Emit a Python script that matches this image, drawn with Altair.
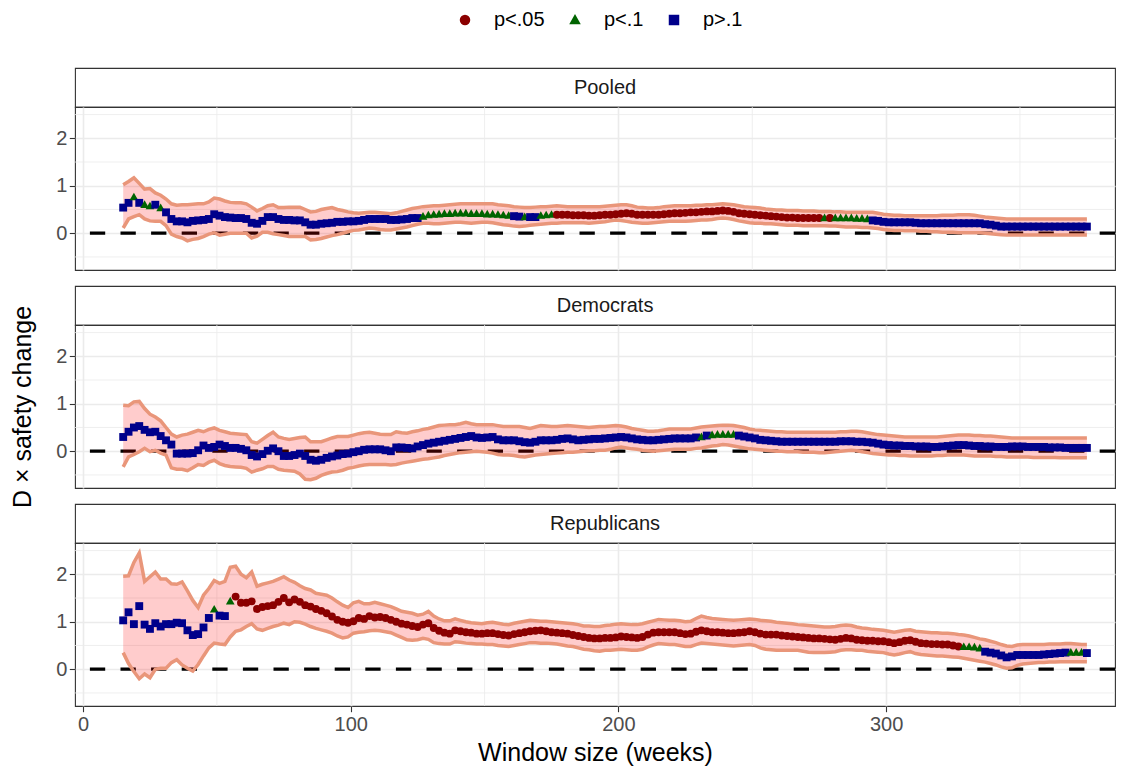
import altair as alt
import pandas as pd

# ---------------- data ----------------
WEEKS = list(range(15, 376, 2))  # window sizes shown (every 2nd week)

SIG_LEVELS = ["p<.05", "p<.1", "p>.1"]
SIG_COLORS = ["#8B0000", "#006400", "#00008B"]
SIG_SHAPES = ["circle", "M0,-1.15L1.1,0.8L-1.1,0.8Z", "square"]

PANELS = ["Pooled", "Democrats", "Republicans"]

P_EST = [
    0.54, 0.64, 0.76, 0.64, 0.60, 0.57, 0.60, 0.53, 0.44, 0.30,
    0.25, 0.25, 0.23, 0.26, 0.27, 0.28, 0.30, 0.40, 0.37, 0.34,
    0.33, 0.32, 0.32, 0.30, 0.22, 0.20, 0.26, 0.34, 0.34, 0.30,
    0.28, 0.28, 0.27, 0.27, 0.23, 0.18, 0.18, 0.20, 0.21, 0.22,
    0.24, 0.24, 0.25, 0.25, 0.26, 0.28, 0.30, 0.30, 0.30, 0.30,
    0.28, 0.28, 0.29, 0.30, 0.32, 0.32, 0.35, 0.38, 0.39, 0.40,
    0.41, 0.41, 0.42, 0.42, 0.42, 0.41, 0.41, 0.41, 0.40, 0.40,
    0.39, 0.38, 0.37, 0.36, 0.35, 0.34, 0.34, 0.34, 0.37, 0.38,
    0.39, 0.39, 0.39, 0.39, 0.38, 0.38, 0.38, 0.37, 0.37, 0.38,
    0.39, 0.39, 0.40, 0.41, 0.42, 0.41, 0.39, 0.39, 0.39, 0.39,
    0.39, 0.40, 0.41, 0.42, 0.42, 0.43, 0.44, 0.44, 0.45, 0.46,
    0.46, 0.47, 0.48, 0.47, 0.45, 0.42, 0.41, 0.40, 0.39, 0.38,
    0.37, 0.36, 0.35, 0.34, 0.33, 0.33, 0.32, 0.32, 0.32, 0.32,
    0.32, 0.32, 0.32, 0.32, 0.32, 0.32, 0.32, 0.31, 0.31, 0.30,
    0.27, 0.26, 0.24, 0.23, 0.23, 0.23, 0.23, 0.23, 0.22, 0.21,
    0.21, 0.21, 0.21, 0.21, 0.21, 0.21, 0.21, 0.21, 0.21, 0.21,
    0.21, 0.19, 0.18, 0.16, 0.14, 0.14, 0.14, 0.14, 0.14, 0.14,
    0.14, 0.14, 0.14, 0.14, 0.14, 0.14, 0.14, 0.14, 0.14, 0.14,
    0.14,
]
P_HI = [
    1.02, 1.09, 1.17, 1.05, 0.93, 0.94, 0.85, 0.80, 0.72, 0.62,
    0.59, 0.60, 0.60, 0.61, 0.62, 0.62, 0.66, 0.74, 0.72, 0.68,
    0.65, 0.64, 0.64, 0.62, 0.55, 0.47, 0.52, 0.58, 0.60, 0.54,
    0.54, 0.55, 0.55, 0.55, 0.50, 0.45, 0.46, 0.50, 0.52, 0.54,
    0.50, 0.48, 0.45, 0.43, 0.42, 0.43, 0.44, 0.44, 0.43, 0.42,
    0.41, 0.43, 0.46, 0.49, 0.52, 0.54, 0.56, 0.57, 0.58, 0.58,
    0.59, 0.60, 0.61, 0.62, 0.62, 0.62, 0.62, 0.62, 0.62, 0.62,
    0.60, 0.59, 0.58, 0.56, 0.55, 0.54, 0.54, 0.55, 0.56, 0.56,
    0.57, 0.58, 0.57, 0.56, 0.56, 0.56, 0.56, 0.56, 0.56, 0.56,
    0.57, 0.58, 0.59, 0.60, 0.60, 0.58, 0.55, 0.54, 0.53, 0.53,
    0.54, 0.56, 0.57, 0.58, 0.58, 0.58, 0.58, 0.59, 0.59, 0.60,
    0.60, 0.61, 0.62, 0.61, 0.60, 0.58, 0.56, 0.55, 0.54, 0.53,
    0.51, 0.50, 0.49, 0.49, 0.48, 0.48, 0.48, 0.47, 0.47, 0.47,
    0.46, 0.46, 0.46, 0.45, 0.45, 0.44, 0.44, 0.44, 0.44, 0.44,
    0.44, 0.42, 0.40, 0.39, 0.38, 0.38, 0.37, 0.37, 0.37, 0.37,
    0.37, 0.37, 0.37, 0.38, 0.38, 0.38, 0.39, 0.39, 0.39, 0.38,
    0.36, 0.34, 0.33, 0.32, 0.31, 0.30, 0.30, 0.30, 0.30, 0.30,
    0.30, 0.30, 0.30, 0.30, 0.30, 0.30, 0.30, 0.30, 0.30, 0.30,
    0.30,
]
P_LO = [
    0.11, 0.30, 0.35, 0.39, 0.30, 0.26, 0.25, 0.25, 0.16, -0.02,
    -0.07, -0.10, -0.16, -0.13, -0.11, -0.07, -0.02, 0.01, -0.04, -0.02,
    0.00, 0.00, 0.00, 0.00, -0.10, -0.06, 0.02, 0.02, -0.01, -0.03,
    -0.05, -0.07, -0.07, -0.07, -0.07, -0.14, -0.13, -0.11, -0.08, -0.05,
    -0.03, 0.00, 0.03, 0.06, 0.07, 0.09, 0.11, 0.10, 0.08, 0.07,
    0.07, 0.09, 0.11, 0.13, 0.16, 0.19, 0.21, 0.21, 0.20, 0.20,
    0.21, 0.22, 0.23, 0.23, 0.22, 0.21, 0.22, 0.23, 0.23, 0.22,
    0.20, 0.18, 0.17, 0.15, 0.14, 0.15, 0.17, 0.18, 0.19, 0.20,
    0.21, 0.21, 0.22, 0.22, 0.22, 0.22, 0.22, 0.21, 0.22, 0.23,
    0.24, 0.26, 0.28, 0.27, 0.25, 0.23, 0.22, 0.21, 0.21, 0.22,
    0.23, 0.24, 0.25, 0.25, 0.25, 0.25, 0.26, 0.27, 0.28, 0.28,
    0.29, 0.31, 0.32, 0.31, 0.29, 0.26, 0.24, 0.22, 0.21, 0.21,
    0.20, 0.20, 0.19, 0.18, 0.17, 0.17, 0.17, 0.16, 0.16, 0.16,
    0.16, 0.16, 0.15, 0.15, 0.14, 0.13, 0.13, 0.13, 0.12, 0.12,
    0.11, 0.10, 0.08, 0.07, 0.06, 0.06, 0.05, 0.05, 0.05, 0.04,
    0.04, 0.03, 0.03, 0.02, 0.02, 0.02, 0.01, 0.01, 0.01, 0.01,
    0.01, 0.00, -0.01, -0.02, -0.03, -0.04, -0.04, -0.04, -0.04, -0.04,
    -0.04, -0.04, -0.04, -0.04, -0.04, -0.04, -0.04, -0.04, -0.04, -0.04,
    -0.04,
]
P_SIG_START = [15, 19, 21, 23, 27, 29, 31, 127, 161, 165, 167, 171, 177, 277, 279, 281, 295]
P_SIG_LABEL = ["p>.1", "p<.1", "p>.1", "p<.1", "p>.1", "p<.1", "p>.1", "p<.1", "p>.1",
               "p<.1", "p>.1", "p<.1", "p<.05", "p<.1", "p<.05", "p<.1", "p>.1"]

D_EST = [
    0.30, 0.41, 0.50, 0.53, 0.45, 0.40, 0.41, 0.32, 0.23, 0.14,
    -0.05, -0.05, -0.05, -0.04, 0.02, 0.12, 0.07, 0.09, 0.14, 0.11,
    0.07, 0.07, 0.05, 0.02, -0.08, -0.11, -0.06, 0.01, 0.06, 0.00,
    -0.10, -0.10, -0.08, -0.05, -0.10, -0.18, -0.20, -0.18, -0.14, -0.11,
    -0.09, -0.06, -0.05, -0.02, 0.00, 0.03, 0.04, 0.04, 0.04, 0.02,
    0.00, 0.08, 0.08, 0.07, 0.06, 0.10, 0.13, 0.16, 0.18, 0.20,
    0.22, 0.24, 0.26, 0.28, 0.30, 0.32, 0.29, 0.28, 0.29, 0.30,
    0.25, 0.23, 0.23, 0.23, 0.21, 0.19, 0.18, 0.20, 0.23, 0.23,
    0.23, 0.24, 0.26, 0.27, 0.25, 0.23, 0.24, 0.25, 0.26, 0.26,
    0.27, 0.28, 0.29, 0.30, 0.29, 0.27, 0.25, 0.24, 0.23, 0.23,
    0.24, 0.25, 0.26, 0.27, 0.27, 0.27, 0.27, 0.29, 0.30, 0.33,
    0.34, 0.35, 0.35, 0.35, 0.35, 0.33, 0.31, 0.29, 0.27, 0.24,
    0.23, 0.22, 0.21, 0.20, 0.20, 0.20, 0.20, 0.20, 0.20, 0.20,
    0.20, 0.20, 0.20, 0.20, 0.21, 0.21, 0.21, 0.20, 0.20, 0.19,
    0.18, 0.16, 0.14, 0.13, 0.12, 0.12, 0.11, 0.11, 0.10, 0.10,
    0.10, 0.09, 0.09, 0.10, 0.11, 0.12, 0.13, 0.13, 0.12, 0.11,
    0.11, 0.10, 0.10, 0.09, 0.09, 0.09, 0.10, 0.10, 0.10, 0.09,
    0.09, 0.09, 0.09, 0.08, 0.08, 0.08, 0.07, 0.07, 0.07, 0.07,
    0.07,
]
D_HI = [
    0.97, 0.96, 1.04, 1.05, 0.90, 0.78, 0.72, 0.64, 0.50, 0.36,
    0.30, 0.34, 0.36, 0.40, 0.44, 0.41, 0.46, 0.49, 0.44, 0.41,
    0.38, 0.37, 0.36, 0.35, 0.20, 0.17, 0.25, 0.33, 0.40, 0.30,
    0.27, 0.25, 0.27, 0.29, 0.30, 0.20, 0.20, 0.20, 0.24, 0.28,
    0.31, 0.31, 0.31, 0.34, 0.37, 0.39, 0.40, 0.38, 0.36, 0.35,
    0.35, 0.41, 0.39, 0.38, 0.41, 0.43, 0.46, 0.48, 0.51, 0.54,
    0.55, 0.56, 0.56, 0.58, 0.61, 0.58, 0.56, 0.56, 0.56, 0.56,
    0.54, 0.52, 0.52, 0.52, 0.52, 0.50, 0.48, 0.51, 0.54, 0.53,
    0.52, 0.52, 0.53, 0.54, 0.53, 0.52, 0.51, 0.50, 0.51, 0.52,
    0.52, 0.53, 0.54, 0.53, 0.51, 0.48, 0.46, 0.44, 0.42, 0.42,
    0.43, 0.45, 0.47, 0.47, 0.47, 0.47, 0.47, 0.49, 0.51, 0.52,
    0.53, 0.54, 0.55, 0.55, 0.54, 0.52, 0.50, 0.47, 0.45, 0.44,
    0.43, 0.42, 0.41, 0.41, 0.40, 0.40, 0.40, 0.40, 0.40, 0.40,
    0.40, 0.40, 0.40, 0.40, 0.41, 0.41, 0.42, 0.42, 0.41, 0.39,
    0.37, 0.35, 0.34, 0.33, 0.32, 0.31, 0.30, 0.30, 0.30, 0.30,
    0.30, 0.30, 0.30, 0.31, 0.32, 0.33, 0.34, 0.34, 0.34, 0.33,
    0.33, 0.32, 0.32, 0.31, 0.30, 0.29, 0.28, 0.28, 0.28, 0.28,
    0.28, 0.28, 0.28, 0.28, 0.28, 0.28, 0.28, 0.28, 0.28, 0.28,
    0.28,
]
D_LO = [
    -0.33, -0.12, -0.07, -0.01, 0.06, -0.01, 0.02, -0.04, -0.08, -0.35,
    -0.38, -0.38, -0.41, -0.35, -0.28, -0.30, -0.23, -0.19, -0.26, -0.30,
    -0.32, -0.33, -0.34, -0.36, -0.44, -0.40, -0.37, -0.32, -0.32, -0.38,
    -0.40, -0.41, -0.42, -0.48, -0.59, -0.60, -0.57, -0.51, -0.47, -0.44,
    -0.43, -0.40, -0.36, -0.34, -0.31, -0.29, -0.28, -0.28, -0.28, -0.28,
    -0.29, -0.28, -0.25, -0.23, -0.21, -0.19, -0.17, -0.16, -0.14, -0.12,
    -0.09, -0.07, -0.05, -0.03, -0.02, -0.01, 0.00, -0.01, -0.02, -0.04,
    -0.07, -0.08, -0.08, -0.09, -0.11, -0.12, -0.10, -0.08, -0.07, -0.06,
    -0.05, -0.04, -0.03, -0.02, -0.02, -0.01, 0.00, 0.01, 0.01, 0.02,
    0.02, 0.04, 0.07, 0.09, 0.07, 0.05, 0.04, 0.02, 0.01, 0.00,
    0.01, 0.02, 0.03, 0.04, 0.04, 0.04, 0.04, 0.06, 0.07, 0.09,
    0.11, 0.12, 0.14, 0.13, 0.11, 0.09, 0.07, 0.05, 0.04, 0.03,
    0.02, 0.01, 0.00, 0.00, -0.01, -0.01, -0.01, -0.02, -0.02, -0.02,
    -0.03, -0.03, -0.02, -0.01, 0.00, 0.01, 0.02, 0.01, -0.01, -0.03,
    -0.05, -0.06, -0.07, -0.08, -0.08, -0.09, -0.09, -0.10, -0.10, -0.10,
    -0.10, -0.10, -0.09, -0.09, -0.08, -0.08, -0.08, -0.08, -0.09, -0.10,
    -0.10, -0.10, -0.10, -0.11, -0.11, -0.12, -0.12, -0.12, -0.12, -0.12,
    -0.13, -0.13, -0.13, -0.13, -0.13, -0.14, -0.14, -0.14, -0.14, -0.14,
    -0.14,
]
D_SIG_START = [15, 231, 233, 235, 245]
D_SIG_LABEL = ["p>.1", "p<.1", "p>.1", "p<.1", "p>.1"]

R_EST = [
    1.03, 1.20, 0.95, 1.33, 0.94, 0.85, 0.97, 0.90, 0.95, 0.95,
    0.98, 0.97, 0.82, 0.72, 0.74, 0.88, 1.08, 1.26, 1.13, 1.12,
    1.43, 1.53, 1.40, 1.40, 1.43, 1.27, 1.31, 1.33, 1.35, 1.42,
    1.50, 1.41, 1.47, 1.42, 1.35, 1.32, 1.27, 1.23, 1.18, 1.11,
    1.04, 1.00, 0.98, 1.01, 1.08, 1.06, 1.12, 1.09, 1.10, 1.08,
    1.04, 1.00, 0.96, 0.94, 0.91, 0.89, 0.94, 0.97, 0.87, 0.81,
    0.77, 0.75, 0.82, 0.80, 0.78, 0.77, 0.75, 0.75, 0.76, 0.76,
    0.74, 0.72, 0.71, 0.74, 0.76, 0.78, 0.80, 0.81, 0.82, 0.80,
    0.78, 0.77, 0.76, 0.75, 0.72, 0.70, 0.68, 0.66, 0.65, 0.65,
    0.66, 0.66, 0.67, 0.69, 0.68, 0.67, 0.66, 0.68, 0.73, 0.77,
    0.78, 0.78, 0.78, 0.78, 0.76, 0.74, 0.75, 0.79, 0.82, 0.80,
    0.78, 0.78, 0.77, 0.76, 0.76, 0.77, 0.78, 0.80, 0.78, 0.75,
    0.73, 0.73, 0.73, 0.71, 0.70, 0.69, 0.68, 0.67, 0.66, 0.65,
    0.65, 0.64, 0.63, 0.62, 0.64, 0.66, 0.65, 0.62, 0.61, 0.60,
    0.60, 0.59, 0.59, 0.57, 0.55, 0.57, 0.60, 0.61, 0.58, 0.55,
    0.54, 0.53, 0.53, 0.52, 0.52, 0.50, 0.48, 0.47, 0.47, 0.46,
    0.44, 0.37, 0.35, 0.33, 0.29, 0.25, 0.27, 0.30, 0.30, 0.30,
    0.30, 0.30, 0.31, 0.32, 0.33, 0.34, 0.35, 0.35, 0.35, 0.35,
    0.34,
]
R_HI = [
    1.96, 1.97, 2.25, 2.45, 1.85, 1.95, 2.05, 1.90, 1.90, 1.80,
    1.79, 1.84, 1.65, 1.45, 1.30, 1.56, 1.70, 1.87, 1.81, 1.85,
    2.15, 2.17, 2.00, 1.93, 2.05, 1.75, 1.79, 1.82, 1.85, 1.90,
    1.95, 1.88, 1.83, 1.76, 1.70, 1.67, 1.60, 1.58, 1.56, 1.50,
    1.42, 1.35, 1.30, 1.40, 1.43, 1.38, 1.38, 1.41, 1.38, 1.35,
    1.32, 1.27, 1.22, 1.20, 1.18, 1.14, 1.16, 1.22, 1.12, 1.06,
    1.02, 1.02, 1.06, 1.03, 1.00, 0.98, 0.97, 0.96, 0.98, 0.99,
    0.97, 0.95, 0.94, 0.97, 0.99, 1.01, 1.03, 1.02, 1.01, 1.01,
    1.00, 0.99, 0.98, 0.97, 0.96, 0.94, 0.91, 0.91, 0.90, 0.90,
    0.92, 0.93, 0.95, 0.96, 0.95, 0.94, 0.94, 0.96, 0.99, 1.02,
    1.05, 1.04, 1.03, 1.03, 1.02, 1.00, 1.01, 1.07, 1.12, 1.09,
    1.07, 1.06, 1.05, 1.04, 1.03, 1.04, 1.05, 1.06, 1.05, 1.03,
    1.02, 1.01, 0.99, 0.98, 0.97, 0.96, 0.94, 0.93, 0.92, 0.91,
    0.90, 0.89, 0.89, 0.90, 0.92, 0.93, 0.92, 0.89, 0.87, 0.86,
    0.84, 0.83, 0.82, 0.80, 0.78, 0.80, 0.82, 0.83, 0.80, 0.79,
    0.78, 0.77, 0.77, 0.76, 0.76, 0.75, 0.73, 0.72, 0.70, 0.67,
    0.64, 0.62, 0.59, 0.56, 0.52, 0.49, 0.48, 0.51, 0.52, 0.52,
    0.52, 0.52, 0.52, 0.53, 0.53, 0.53, 0.54, 0.54, 0.53, 0.52,
    0.52,
]
R_LO = [
    0.35, 0.12, -0.05, -0.20, -0.10, -0.18, 0.00, 0.02, 0.02, 0.14,
    0.20, 0.09, 0.02, -0.04, 0.10, 0.28, 0.45, 0.55, 0.53, 0.52,
    0.68, 0.80, 0.83, 0.90, 0.96, 0.85, 0.82, 0.86, 0.90, 0.93,
    0.97, 0.94, 1.00, 0.99, 0.95, 0.90, 0.86, 0.83, 0.80, 0.76,
    0.70, 0.66, 0.68, 0.76, 0.78, 0.79, 0.81, 0.82, 0.81, 0.79,
    0.77, 0.72, 0.67, 0.62, 0.61, 0.62, 0.65, 0.63, 0.56, 0.54,
    0.53, 0.53, 0.58, 0.57, 0.55, 0.54, 0.53, 0.53, 0.52, 0.52,
    0.50, 0.49, 0.48, 0.50, 0.52, 0.54, 0.56, 0.56, 0.55, 0.55,
    0.54, 0.53, 0.51, 0.49, 0.48, 0.45, 0.42, 0.41, 0.39, 0.38,
    0.40, 0.40, 0.41, 0.42, 0.41, 0.40, 0.40, 0.42, 0.47, 0.51,
    0.54, 0.53, 0.52, 0.52, 0.50, 0.48, 0.48, 0.52, 0.55, 0.54,
    0.53, 0.52, 0.51, 0.50, 0.49, 0.50, 0.51, 0.52, 0.50, 0.45,
    0.42, 0.41, 0.40, 0.40, 0.40, 0.40, 0.40, 0.38, 0.36, 0.35,
    0.35, 0.35, 0.36, 0.37, 0.40, 0.41, 0.41, 0.40, 0.40, 0.38,
    0.37, 0.36, 0.35, 0.32, 0.30, 0.32, 0.35, 0.37, 0.33, 0.31,
    0.30, 0.29, 0.28, 0.28, 0.27, 0.26, 0.25, 0.23, 0.21, 0.19,
    0.17, 0.15, 0.12, 0.09, 0.05, 0.02, 0.03, 0.08, 0.11, 0.12,
    0.13, 0.14, 0.14, 0.15, 0.15, 0.16, 0.16, 0.16, 0.16, 0.16,
    0.16,
]
R_SIG_START = [15, 49, 51, 55, 57, 329, 337, 369, 375]
R_SIG_LABEL = ["p>.1", "p<.1", "p>.1", "p<.1", "p<.05", "p<.1", "p>.1", "p<.1", "p>.1"]

X_TICKS = [0, 100, 200, 300]
X_MINOR = [50, 150, 250, 350]
Y_TICKS = [0, 1, 2]
Y_MINOR = [-0.5, 0.5, 1.5, 2.5]
ZERO = [0]
STRIP_CENTER = [195]  # centre of the reference's full (cropped) x range

X_TITLE = "Window size (weeks)"
Y_TITLE = "D \u00d7 safety change"

# ---------------- layout / style ----------------
W = 1040
H = 163
STRIP_H = 39
GAP = 16
FONT = "Liberation Sans"

XS = alt.Scale(domain=[-3, 385.5], nice=False, zero=False)
YS = alt.Scale(domain=[-0.775, 2.66], nice=False, zero=False)

LEGEND = alt.Legend(
    orient="none", legendX=380, legendY=-58, direction="horizontal", title=None,
    labelFontSize=20, labelColor="black", symbolSize=110, labelOffset=19,
    columnPadding=20, symbolStrokeWidth=0, labelFont=FONT,
)


def build_df(est, lo, hi, starts, labels):
    assert len(est) == len(WEEKS) and len(lo) == len(WEEKS) and len(hi) == len(WEEKS)
    sig = []
    for w in WEEKS:
        lab = labels[0]
        for s, l in zip(starts, labels):
            if w >= s:
                lab = l
        sig.append(lab)
    return pd.DataFrame({"week": WEEKS, "est": est, "lo": lo, "hi": hi, "sig": sig})


def x_axis(bottom):
    if bottom:
        return alt.Axis(values=X_TICKS, title=X_TITLE, grid=True, ticks=True, labels=True,
                        titlePadding=6)
    return alt.Axis(values=X_TICKS, title=None, grid=True, ticks=False, labels=False, domain=False)


def y_axis(with_title):
    if with_title:
        return alt.Axis(values=Y_TICKS, title=Y_TITLE, grid=True, titlePadding=20)
    return alt.Axis(values=Y_TICKS, title=None, grid=True)


def strip(name):
    return alt.Chart(pd.DataFrame({"label": [name], "c": STRIP_CENTER})).mark_text(
        font=FONT, fontSize=20, color="#1A1A1A", align="center", baseline="middle"
    ).encode(
        text="label:N",
        x=alt.X("c:Q", scale=XS, axis=None),
        y=alt.value(STRIP_H / 2),
    ).properties(width=W, height=STRIP_H)


def spacer():
    return alt.Chart(pd.DataFrame({"s": [0]})).mark_point(opacity=0, size=0).encode(
        x=alt.value(W / 2), y=alt.value(GAP / 2)
    ).properties(width=W, height=GAP, view=alt.ViewBackground(strokeOpacity=0))


def panel(df, bottom, ytitle):
    xa = x_axis(bottom)
    ya = y_axis(ytitle)
    base = alt.Chart(df)
    minor_x = alt.Chart(pd.DataFrame({"v": X_MINOR})).mark_rule(
        color="#EBEBEB", strokeWidth=0.8
    ).encode(x=alt.X("v:Q", scale=XS, axis=xa))
    minor_y = alt.Chart(pd.DataFrame({"v": Y_MINOR})).mark_rule(
        color="#EBEBEB", strokeWidth=0.8
    ).encode(y=alt.Y("v:Q", scale=YS, axis=ya))
    zero = alt.Chart(pd.DataFrame({"z": ZERO})).mark_rule(
        color="black", strokeWidth=3.2, strokeDash=[15.3, 15.3]
    ).encode(y=alt.Y("z:Q", scale=YS, axis=ya))
    ribbon = base.mark_area(color="red", opacity=0.2).encode(
        x=alt.X("week:Q", scale=XS, axis=xa),
        y=alt.Y("lo:Q", scale=YS, axis=ya),
        y2="hi:Q",
    )
    upper = base.mark_line(color="#E9967A", strokeWidth=3.5).encode(
        x=alt.X("week:Q", scale=XS, axis=xa), y=alt.Y("hi:Q", scale=YS, axis=ya)
    )
    lower = base.mark_line(color="#E9967A", strokeWidth=3.5).encode(
        x=alt.X("week:Q", scale=XS, axis=xa), y=alt.Y("lo:Q", scale=YS, axis=ya)
    )
    pts = base.mark_point(filled=True, opacity=1, size=62).encode(
        x=alt.X("week:Q", scale=XS, axis=xa),
        y=alt.Y("est:Q", scale=YS, axis=ya),
        color=alt.Color("sig:N", scale=alt.Scale(domain=SIG_LEVELS, range=SIG_COLORS), legend=LEGEND),
        shape=alt.Shape("sig:N", scale=alt.Scale(domain=SIG_LEVELS, range=SIG_SHAPES), legend=LEGEND),
    )
    return alt.layer(minor_x, minor_y, zero, ribbon, upper, lower, pts).properties(width=W, height=H)


dfs = [
    build_df(P_EST, P_LO, P_HI, P_SIG_START, P_SIG_LABEL),
    build_df(D_EST, D_LO, D_HI, D_SIG_START, D_SIG_LABEL),
    build_df(R_EST, R_LO, R_HI, R_SIG_START, R_SIG_LABEL),
]

items = []
for i, (name, df) in enumerate(zip(PANELS, dfs)):
    if i > 0:
        items.append(spacer())
    items.append(strip(name))
    items.append(panel(df, bottom=(i == 2), ytitle=(i == 1)))

chart = alt.vconcat(*items, spacing=0, bounds="flush").properties(
    padding={"left": 2, "top": 2, "right": 0, "bottom": 0}
).configure(font=FONT).configure_view(
    stroke="#333333", strokeWidth=1.1
).configure_axis(
    labelFont=FONT, labelFontSize=20, labelColor="#4D4D4D",
    tickColor="#333333", tickSize=5.7, tickWidth=1.1, labelPadding=2.5,
    domain=False, gridColor="#EBEBEB", gridWidth=1.6,
    titleFont=FONT, titleFontSize=25, titleFontWeight="normal", titleColor="black",
)

chart.save("out.html", embed_options={"renderer": "svg", "actions": False})
